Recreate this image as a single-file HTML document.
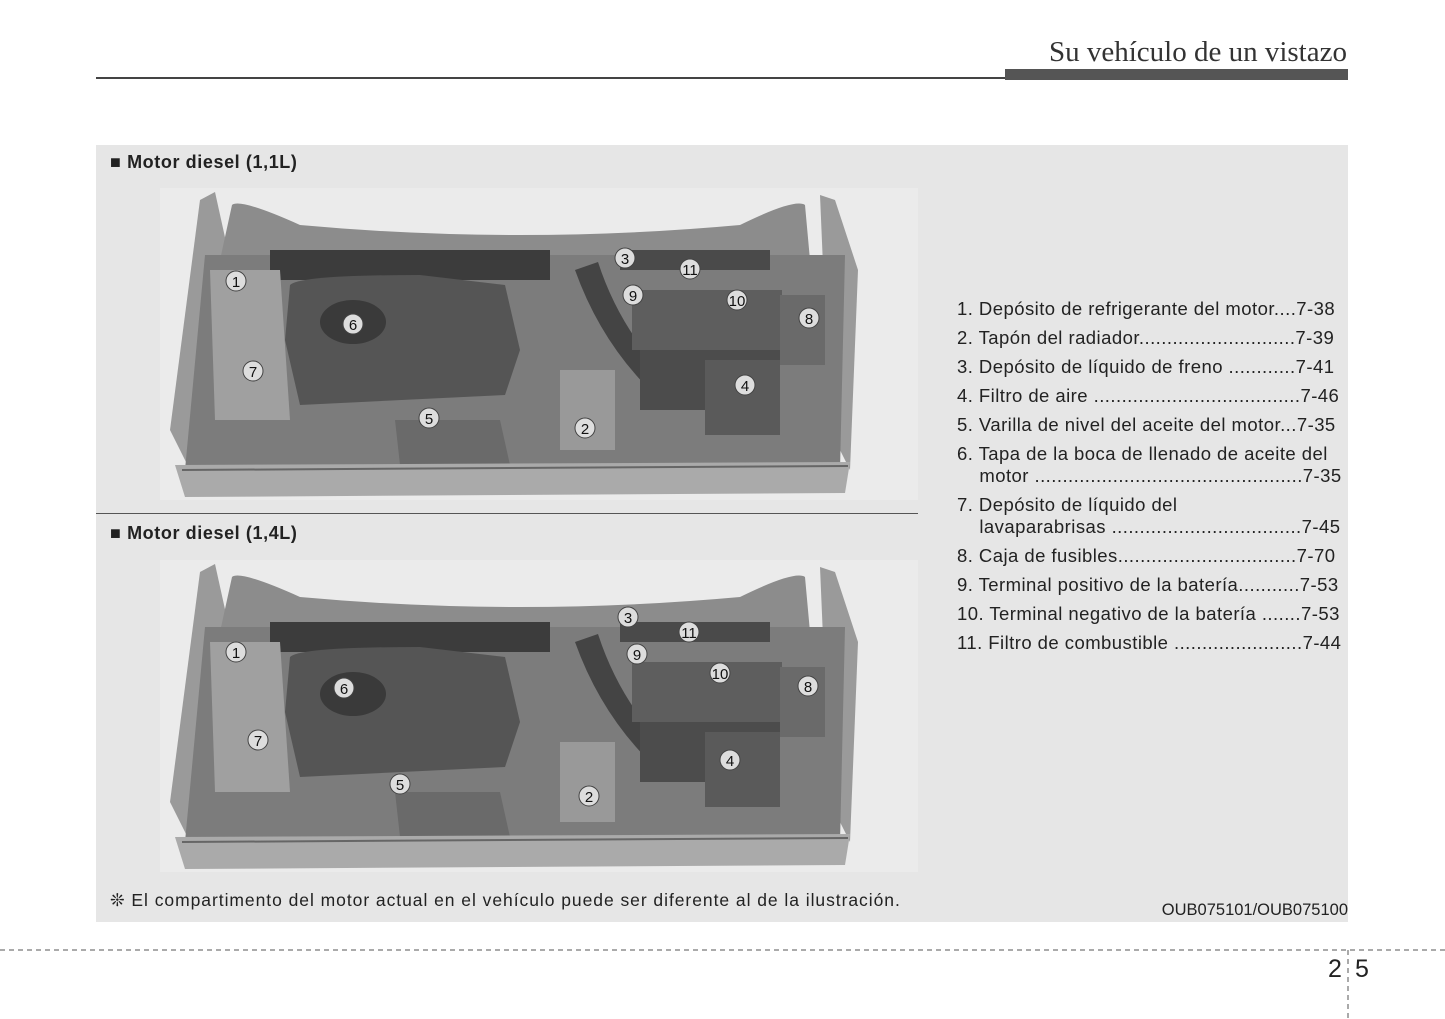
<!DOCTYPE html>
<html><head><meta charset="utf-8"><style>
body{margin:0;width:1445px;height:1019px;background:#fff;position:relative;overflow:hidden;font-family:"Liberation Sans",sans-serif;color:#222}
.a{position:absolute;white-space:nowrap}
.li{position:absolute;left:957px;font-size:18.5px;letter-spacing:0.45px;color:#222}
</style></head><body>
<div class="a" style="right:98px;top:36px;font-family:'Liberation Serif',serif;font-size:29px;color:#333">Su vehículo de un vistazo</div>
<div class="a" style="left:96px;top:77px;width:910px;height:2px;background:#444"></div>
<div class="a" style="left:1005px;top:69px;width:343px;height:11px;background:#555"></div>
<div class="a" style="left:96px;top:145px;width:1252px;height:777px;background:#e6e6e6"></div>
<div class="a" style="left:110px;top:152px;font-size:18px;letter-spacing:0.6px;font-weight:bold">■ Motor diesel (1,1L)</div>
<div class="a" style="left:110px;top:523px;font-size:18px;letter-spacing:0.6px;font-weight:bold">■ Motor diesel (1,4L)</div>
<div class="a" style="left:96px;top:513px;width:822px;height:1px;background:#555"></div>
<svg class="a" style="left:0;top:0" width="1445" height="1019">
<defs>
<g id="e">
<rect x="160" y="188" width="758" height="312" fill="#ebebeb"/>
<path d="M200 200 L215 192 L230 260 L190 470 L170 430 Z" fill="#9a9a9a"/>
<path d="M820 195 L835 200 L858 270 L850 470 L830 430 Z" fill="#9a9a9a"/>
<path d="M232 205 Q240 198 300 225 Q520 245 740 225 Q795 198 805 205 L810 260 L220 260 Z" fill="#8c8c8c"/>
<path d="M205 255 L845 255 L840 470 L185 470 Z" fill="#7c7c7c"/>
<rect x="270" y="250" width="280" height="30" fill="#3c3c3c"/>
<rect x="620" y="250" width="150" height="20" fill="#4a4a4a"/>
<path d="M210 270 L280 270 L290 420 L215 420 Z" fill="#a0a0a0"/>
<path d="M290 285 Q300 275 420 275 L505 285 L520 350 L505 395 L300 405 L285 340 Z" fill="#555"/>
<ellipse cx="353" cy="322" rx="33" ry="22" fill="#3a3a3a"/>
<path d="M395 420 L500 420 L510 465 L400 465 Z" fill="#6a6a6a"/>
<path d="M575 270 Q600 340 650 390 L670 380 Q620 330 598 262 Z" fill="#444"/>
<rect x="632" y="290" width="150" height="60" fill="#5e5e5e"/>
<rect x="640" y="350" width="140" height="60" fill="#4c4c4c"/>
<rect x="705" y="360" width="75" height="75" fill="#5a5a5a"/>
<rect x="780" y="295" width="45" height="70" fill="#6a6a6a"/>
<rect x="560" y="370" width="55" height="80" fill="#999"/>
<path d="M175 465 L850 462 L845 493 L185 497 Z" fill="#aaa"/>
<path d="M182 470 L848 466" stroke="#666" stroke-width="2"/>
</g>
</defs>
<use href="#e"/>
<use href="#e" y="372"/>
<g fill="#ddd" stroke="#444" stroke-width="1">
<circle cx="236" cy="281" r="10"/><circle cx="353" cy="324" r="10"/><circle cx="253" cy="371" r="10"/><circle cx="429" cy="418" r="10"/><circle cx="585" cy="428" r="10"/><circle cx="625" cy="258" r="10"/><circle cx="633" cy="295" r="10"/><circle cx="690" cy="269" r="10"/><circle cx="737" cy="300" r="10"/><circle cx="809" cy="318" r="10"/><circle cx="745" cy="385" r="10"/>
<circle cx="236" cy="652" r="10"/><circle cx="344" cy="688" r="10"/><circle cx="258" cy="740" r="10"/><circle cx="400" cy="784" r="10"/><circle cx="589" cy="796" r="10"/><circle cx="628" cy="617" r="10"/><circle cx="637" cy="654" r="10"/><circle cx="689" cy="632" r="10"/><circle cx="720" cy="673" r="10"/><circle cx="808" cy="686" r="10"/><circle cx="730" cy="760" r="10"/>
</g>
<g font-family="Liberation Sans" font-size="15" text-anchor="middle" fill="#111">
<text x="236" y="287">1</text><text x="353" y="330">6</text><text x="253" y="377">7</text><text x="429" y="424">5</text><text x="585" y="434">2</text><text x="625" y="264">3</text><text x="633" y="301">9</text><text x="690" y="275">11</text><text x="737" y="306">10</text><text x="809" y="324">8</text><text x="745" y="391">4</text>
<text x="236" y="658">1</text><text x="344" y="694">6</text><text x="258" y="746">7</text><text x="400" y="790">5</text><text x="589" y="802">2</text><text x="628" y="623">3</text><text x="637" y="660">9</text><text x="689" y="638">11</text><text x="720" y="679">10</text><text x="808" y="692">8</text><text x="730" y="766">4</text>
</g>
<line x1="0" y1="950" x2="1445" y2="950" stroke="#555" stroke-dasharray="5,4"/>
<line x1="1348" y1="950" x2="1348" y2="1019" stroke="#555" stroke-dasharray="5,4"/>
</svg>
<div class="li" style="top:298px">1. Depósito de refrigerante del motor....7-38</div>
<div class="li" style="top:327px">2. Tapón del radiador............................7-39</div>
<div class="li" style="top:356px">3. Depósito de líquido de freno ............7-41</div>
<div class="li" style="top:385px">4. Filtro de aire .....................................7-46</div>
<div class="li" style="top:414px">5. Varilla de nivel del aceite del motor...7-35</div>
<div class="li" style="top:443px">6. Tapa de la boca de llenado de aceite del</div>
<div class="li" style="top:465px">&nbsp;&nbsp;&nbsp;&nbsp;motor ................................................7-35</div>
<div class="li" style="top:494px">7. Depósito de líquido del</div>
<div class="li" style="top:516px">&nbsp;&nbsp;&nbsp;&nbsp;lavaparabrisas ..................................7-45</div>
<div class="li" style="top:545px">8. Caja de fusibles................................7-70</div>
<div class="li" style="top:574px">9. Terminal positivo de la batería...........7-53</div>
<div class="li" style="top:603px">10. Terminal negativo de la batería .......7-53</div>
<div class="li" style="top:632px">11. Filtro de combustible .......................7-44</div>
<div class="a" style="left:110px;top:890px;font-size:17.5px;letter-spacing:0.95px">❊ El compartimento del motor actual en el vehículo puede ser diferente al de la ilustración.</div>
<div class="a" style="right:97px;top:901px;font-size:16.5px">OUB075101/OUB075100</div>
<div class="a" style="left:1328px;top:955px;font-size:25px">2</div>
<div class="a" style="left:1355px;top:955px;font-size:25px">5</div>
</body></html>
